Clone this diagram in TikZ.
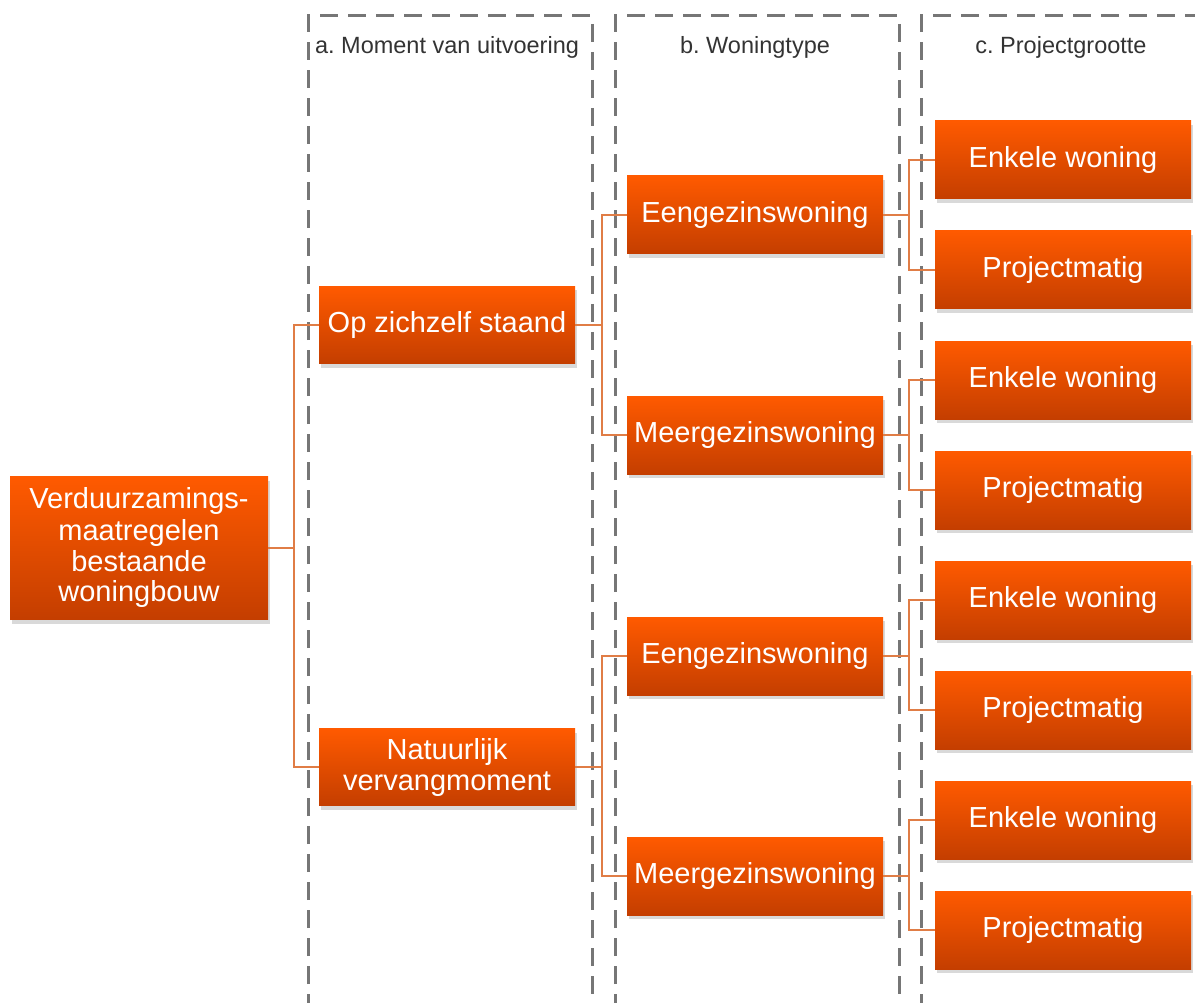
\documentclass[tikz,border=0pt]{standalone}
\usepackage{fontspec}
\setmainfont{Liberation Sans}
\frenchspacing
\usepackage{xcolor}
\usetikzlibrary{shadows,positioning}
\definecolor{boxtop}{RGB}{255,90,0}
\definecolor{boxbot}{RGB}{196,62,0}
\definecolor{linkorange}{RGB}{224,125,70}
\definecolor{dashgray}{RGB}{118,118,118}
\tikzset{
	box/.style = {shape=rectangle, top color=boxtop, bottom color=boxbot, text=white, inner sep=0pt, align=center, minimum width=256pt, minimum height=78pt, font=\fontsize{29}{31}\selectfont, drop shadow={shadow xshift=2pt, shadow yshift=-4pt, opacity=0.3}},
	column/.style = {draw=dashgray, line width=3pt, dash pattern=on 18pt off 10pt},
	head/.style = {text=black!80, font=\fontsize{23.5}{26}\selectfont}
}

\begin{document}
\begin{tikzpicture}[
    x=1pt,
    y=-1pt,
    node distance=110pt,
 	edge_style/.style={
    	draw=linkorange, 
 		line width=1.6pt
 	}]
 		\useasboundingbox (0,0) rectangle (1195,1003);
 		
 		% dashed columns
 		\begin{scope}
 		\clip (0,0) rectangle (1195,1003);
 		\draw[column] (308,1040) -- (308,16) -- (592,16) -- (592,1040);
 		\draw[column] (615,1040) -- (615,16) -- (899,16) -- (899,1040);
 		\draw[column] (921,1040) -- (921,16) -- (1230,16);
 		\end{scope}
 		\node[head] (h_a) at (447,47) {a. Moment van uitvoering};
 		\node[head] (h_b) at (755,47) {b. Woningtype};
 		\node[head] (h_c) at (1061,47) {c. Projectgrootte};
 		
 		% boxes
 		\node[box, minimum width=258pt, minimum height=143pt] (root) at (139,548) {Verduurzamings-\\maatregelen\\bestaande\\woningbouw};
 		\node[box, minimum height=77pt] (op) at (447,325) {Op zichzelf staand};
 		\node[box, minimum height=77pt] (nat) at (447,767) {Natuurlijk\\vervangmoment};
 		
 		\node[box] (eg1) at (755,215) {Eengezinswoning};
 		\node[box] (mg1) at (755,435) {Meergezinswoning};
 		\node[box] (eg2) at (755,656) {Eengezinswoning};
 		\node[box] (mg2) at (755,876) {Meergezinswoning};
 		
 		\node[box] (ew1) at (1063,160) {Enkele woning};
 		\node[box, below of=ew1] (pm1) {Projectmatig};
 		\node[box, below of=pm1] (ew2) {Enkele woning};
 		\node[box, below of=ew2] (pm2) {Projectmatig};
 		\node[box, below of=pm2] (ew3) {Enkele woning};
 		\node[box, below of=ew3] (pm3) {Projectmatig};
 		\node[box, below of=pm3] (ew4) {Enkele woning};
 		\node[box, below of=ew4] (pm4) {Projectmatig};
 		
 		% connectors
 		\draw[edge_style] (root.east) -- ++(26,0) |- (op.west);
 		\draw[edge_style] (root.east) -- ++(26,0) |- (nat.west);
 		\draw[edge_style] (op.east) -- ++(27,0) |- (eg1.west);
 		\draw[edge_style] (op.east) -- ++(27,0) |- (mg1.west);
 		\draw[edge_style] (nat.east) -- ++(27,0) |- (eg2.west);
 		\draw[edge_style] (nat.east) -- ++(27,0) |- (mg2.west);
 		\draw[edge_style] (eg1.east) -- ++(26,0) |- (ew1.west);
 		\draw[edge_style] (eg1.east) -- ++(26,0) |- (pm1.west);
 		\draw[edge_style] (mg1.east) -- ++(26,0) |- (ew2.west);
 		\draw[edge_style] (mg1.east) -- ++(26,0) |- (pm2.west);
 		\draw[edge_style] (eg2.east) -- ++(26,0) |- (ew3.west);
 		\draw[edge_style] (eg2.east) -- ++(26,0) |- (pm3.west);
 		\draw[edge_style] (mg2.east) -- ++(26,0) |- (ew4.west);
 		\draw[edge_style] (mg2.east) -- ++(26,0) |- (pm4.west);
 	\end{tikzpicture}
\end{document}
